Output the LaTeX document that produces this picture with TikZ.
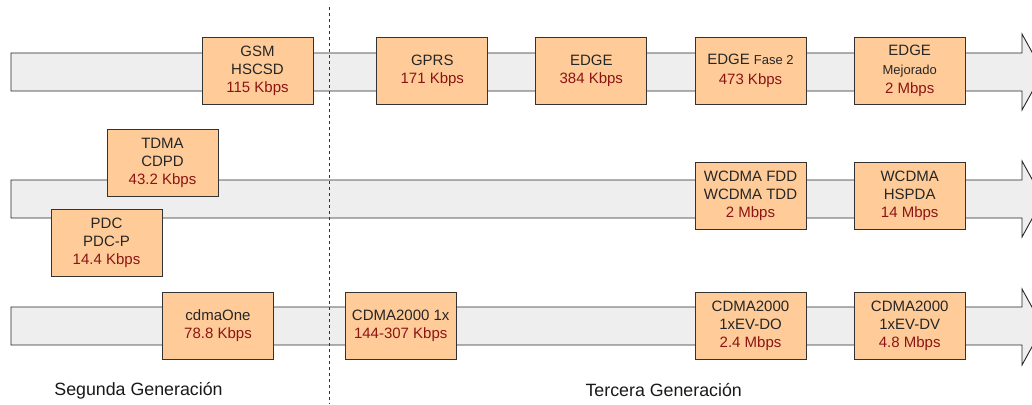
\documentclass[tikz,border=0pt]{standalone}
\usepackage{fontspec}
\setmainfont{Liberation Sans}
\definecolor{boxfill}{HTML}{FFCC99}
\definecolor{shaftfill}{HTML}{EEEEEE}
\definecolor{ratecol}{HTML}{8C1414}
\definecolor{boxline}{HTML}{333333}
\newcommand\speed[1]{\textcolor{ratecol}{#1}}
\newcommand\smalltxt[1]{{\fontsize{13}{18}\selectfont #1}}
\begin{document}
\begin{tikzpicture}[x=1pt,y=-1pt,
  tech/.style={draw=boxline, line width=0.9pt, fill=boxfill, minimum width=111pt,
    minimum height=67pt, inner sep=0pt, align=center,
    font=\fontsize{15}{18}\selectfont, text=black!85},
  band/.style={draw=black!85, line width=0.9pt, fill=shaftfill},
  gen/.style={font=\fontsize{17.8}{20}\selectfont, text=black!90, inner sep=0pt},
  divider/.style={draw=black!80, line width=0.8pt, dash pattern=on 3pt off 3pt}]
\useasboundingbox (0,0) rectangle (1032,404);

% band arrows
\draw[band] (11,53) -- (1022,53) -- (1022,34) -- (1043,72) -- (1022,110) -- (1022,91) -- (11,91) -- cycle;
\draw[band] (11,180) -- (1022,180) -- (1022,161) -- (1043,199) -- (1022,237) -- (1022,218) -- (11,218) -- cycle;
\draw[band] (11,307) -- (1022,307) -- (1022,289) -- (1043,327) -- (1022,365) -- (1022,345) -- (11,345) -- cycle;

% divider
\coordinate (dtop) at (329,7);
\coordinate (dbot) at (329,404);
\draw[divider] (dtop) -- (dbot);

% row 1
\node[tech] (gsm) at (257.5,70.5) {GSM\\HSCSD\\\speed{115 Kbps}};
\node[tech] (gprs) at (432.3,70.5) {GPRS\\\speed{171 Kbps}};
\node[tech] (edge) at (591.3,70.5) {EDGE\\\speed{384 Kbps}};
\node[tech] (edge2) at (750.5,70.5) {EDGE \smalltxt{Fase 2}\\[2pt]\speed{473 Kbps}};
\node[tech] (edgem) at (909.7,70.5) {EDGE\\[1pt]\smalltxt{Mejorado}\\[1pt]\speed{2 Mbps}};

% row 2
\node[tech] (tdma) at (162.5,162.7) {TDMA\\CDPD\\\speed{43.2 Kbps}};
\node[tech] (pdc) at (106.5,243.3) {PDC\\PDC-P\\\speed{14.4 Kbps}};
\node[tech] (wcdma) at (750.5,196) {WCDMA FDD\\WCDMA TDD\\\speed{2 Mbps}};
\node[tech] (hspda) at (909.7,196) {WCDMA\\HSPDA\\\speed{14 Mbps}};

% row 3
\node[tech] (cdmaone) at (218,326) {cdmaOne\\\speed{78.8 Kbps}};
\node[tech] (cdmax) at (400.7,326) {CDMA2000 1x\\\speed{144-307 Kbps}};
\node[tech] (evdo) at (750.5,326) {CDMA2000\\1xEV-DO\\\speed{2.4 Mbps}};
\node[tech] (evdv) at (909.7,326) {CDMA2000\\1xEV-DV\\\speed{4.8 Mbps}};

% generation labels
\node[gen] (seg) at (138.5,391) {Segunda Generación};
\node[gen] (ter) at (663.7,390) {Tercera Generación};
\end{tikzpicture}
\end{document}
